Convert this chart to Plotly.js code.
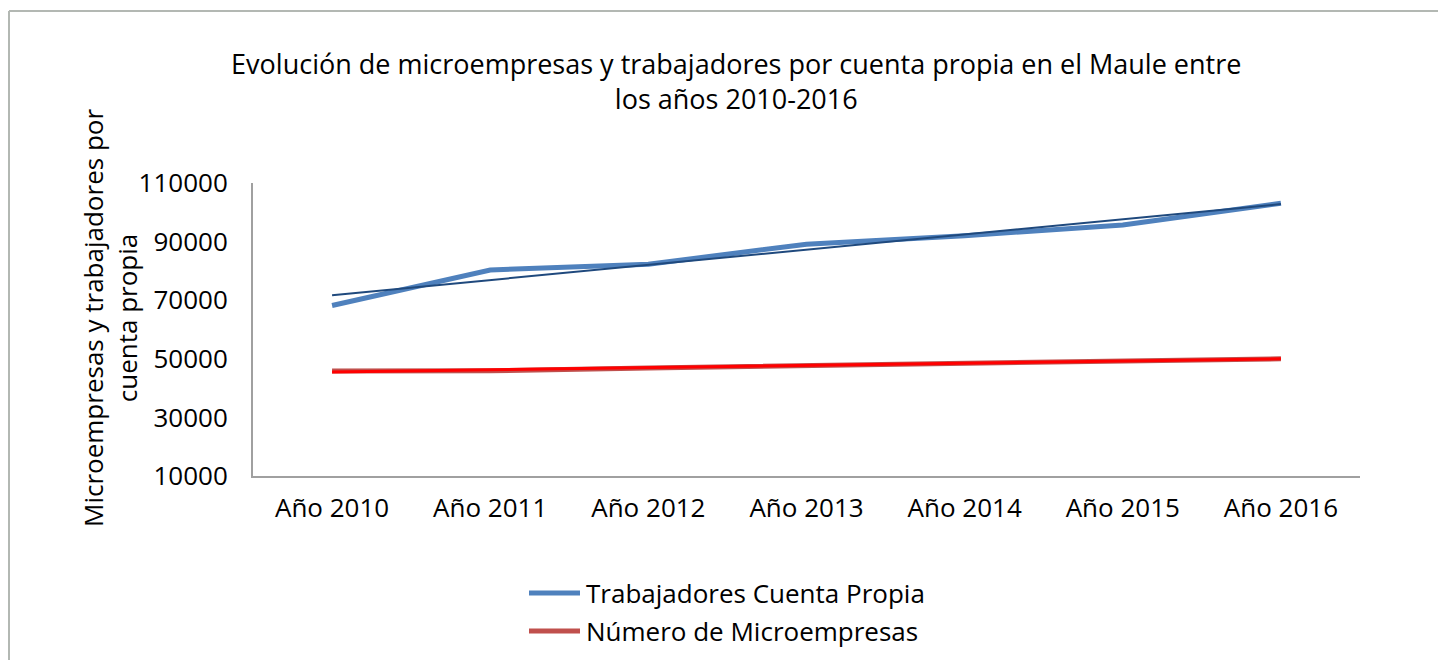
<!DOCTYPE html>
<html>
<head>
<meta charset="utf-8">
<script src="https://cdn.plot.ly/plotly-3.0.1.min.js"></script>
<style>
html,body{margin:0;padding:0;background:#fff;}
#chart{width:1438px;height:660px;}
</style>
</head>
<body>
<div id="chart"></div>
<script>
var categories = ["Año 2010","Año 2011","Año 2012","Año 2013","Año 2014","Año 2015","Año 2016"];
var trabajadores = [68200, 80300, 82300, 89100, 92000, 95700, 103100];
var microempresas = [45800, 45900, 46900, 47700, 48500, 49300, 50000];
var yTickVals = [10000, 30000, 50000, 70000, 90000, 110000];
var seriesNames = ["Trabajadores Cuenta Propia", "Número de Microempresas"];
var seriesColors = ["#4f81bd", "#c0504d"];

function linearTrend(vals){
  var n = vals.length, sx=0, sy=0, sxy=0, sxx=0;
  for (var i=0;i<n;i++){ sx+=i; sy+=vals[i]; sxy+=i*vals[i]; sxx+=i*i; }
  var b = (n*sxy - sx*sy)/(n*sxx - sx*sx);
  var a = (sy - b*sx)/n;
  return vals.map(function(_,i){ return a + b*i; });
}

var font = "'Open Sans', 'Noto Sans', sans-serif";

var traces = [
  {x: categories, y: trabajadores, type:'scatter', mode:'lines', name:seriesNames[0], showlegend:false,
   line:{color:seriesColors[0], width:5}},
  {x: categories, y: linearTrend(trabajadores), type:'scatter', mode:'lines', showlegend:false,
   hoverinfo:'skip', line:{color:'#1f497d', width:2}},
  {x: categories, y: microempresas, type:'scatter', mode:'lines', name:seriesNames[1], showlegend:false,
   line:{color:seriesColors[1], width:5}},
  {x: categories, y: linearTrend(microempresas), type:'scatter', mode:'lines', showlegend:false,
   hoverinfo:'skip', line:{color:'#ff0000', width:3}}
];

// plot area geometry (px) used to express the custom legend in paper units
var PL = 253, PW = 1107, PB = 476, PH = 293;
function px2x(px){ return (px - PL) / PW; }
function px2y(py){ return (PB - py) / PH; }

var legendRowsY = [593, 631];
var shapes = [
  {type:'line', xref:'paper', yref:'paper', x0:px2x(9), x1:px2x(1450), y0:px2y(11), y1:px2y(11), line:{color:'#b3b8b3', width:2}},
  {type:'line', xref:'paper', yref:'paper', x0:px2x(9), x1:px2x(9), y0:px2y(11), y1:px2y(680), line:{color:'#b3b8b3', width:2}}
];
var annotations = [
  {text:'Microempresas y trabajadores por<br>cuenta propia', xref:'paper', yref:'paper',
   x:-0.129, y:0.54, xanchor:'center', yanchor:'middle', textangle:-90, showarrow:false,
   font:{size:26, color:'#000'}}
];
seriesNames.forEach(function(nm, i){
  shapes.push({type:'line', xref:'paper', yref:'paper', x0:px2x(529), x1:px2x(580),
               y0:px2y(legendRowsY[i]), y1:px2y(legendRowsY[i]), line:{color:seriesColors[i], width:5}});
  annotations.push({text:nm, xref:'paper', yref:'paper', x:px2x(584), y:px2y(legendRowsY[i]),
                    xanchor:'left', yanchor:'middle', showarrow:false, font:{size:26, color:'#000'}});
});

var layout = {
  width:1438, height:660,
  paper_bgcolor:'#fff', plot_bgcolor:'#fff',
  margin:{l:PL, r:1438-PL-PW, t:PB-PH, b:660-PB},
  font:{family:font, size:26, color:'#000'},
  showlegend:false,
  title:{text:'Evolución de microempresas y trabajadores por cuenta propia en el Maule entre<br>los años 2010-2016',
         font:{family:font, size:27, color:'#000'}, x:0.512, xanchor:'center', y:0.888, yanchor:'middle'},
  xaxis:{type:'category', range:[-0.5, 6.5], automargin:false, showgrid:false, zeroline:false, showline:true, linecolor:'#a0a0a0', linewidth:2,
         ticks:'', tickfont:{size:26}, ticklabelstandoff:8, fixedrange:true},
  yaxis:{range:[10000,110000], tickvals:yTickVals, tickformat:'d', automargin:false, showgrid:false, zeroline:false, showline:true,
         linecolor:'#a0a0a0', linewidth:2, ticks:'', tickfont:{size:26}, ticklabelstandoff:18, fixedrange:true},
  annotations:annotations,
  shapes:shapes
};

Plotly.newPlot('chart', traces, layout, {displayModeBar:false, staticPlot:true});
</script>
</body>
</html>
